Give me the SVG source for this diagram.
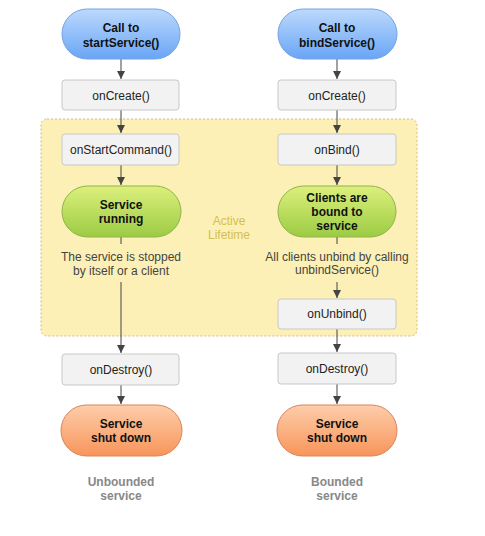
<svg xmlns="http://www.w3.org/2000/svg" width="485" height="536" viewBox="0 0 485 536">
<defs>
<linearGradient id="gBlue" x1="0" y1="0" x2="0" y2="1"><stop offset="0" stop-color="#bcd9fd"/><stop offset="1" stop-color="#69a5f6"/></linearGradient>
<linearGradient id="gGreen" x1="0" y1="0" x2="0" y2="1"><stop offset="0" stop-color="#dcf07c"/><stop offset="1" stop-color="#9ccb44"/></linearGradient>
<linearGradient id="gOrange" x1="0" y1="0" x2="0" y2="1"><stop offset="0" stop-color="#fecdab"/><stop offset="1" stop-color="#f7955a"/></linearGradient>
<marker id="arr" viewBox="0 0 10 10" refX="10" refY="5" markerWidth="8" markerHeight="8" markerUnits="userSpaceOnUse" orient="auto"><path d="M0,0 L10,5 L0,10 z" fill="#444"/></marker>
</defs>
<style>
.box{fill:#f2f2f2;stroke:#c8c8c8;stroke-width:1}
.blue{fill:url(#gBlue);stroke:#74a3e0;stroke-width:1}
.green{fill:url(#gGreen);stroke:#8fb34a;stroke-width:1}
.orange{fill:url(#gOrange);stroke:#d8845a;stroke-width:1}
text{font-family:"Liberation Sans",Arial,sans-serif;text-anchor:middle}
.t{font-size:12px;fill:#222}
.b{font-size:12px;font-weight:bold;fill:#111}
.note{font-size:12px;fill:#444}
.cap{font-size:12px;font-weight:bold;fill:#888}
.act{font-size:12px;fill:#d4bf4c}
.ln{stroke:#444;stroke-width:1;fill:none}
</style>
<rect x="41" y="119" width="376" height="217" rx="6" fill="#fdf0b6" stroke="#d2bd78" stroke-width="1" stroke-dasharray="2,2"/>
<text class="act" x="229" y="225">Active</text>
<text class="act" x="229" y="239">Lifetime</text>
<g id="connectors">
<line class="ln" x1="121" y1="59" x2="121" y2="79" marker-end="url(#arr)"/>
<line class="ln" x1="121" y1="110" x2="121" y2="133" marker-end="url(#arr)"/>
<line class="ln" x1="121" y1="165" x2="121" y2="185" marker-end="url(#arr)"/>
<line class="ln" x1="121" y1="237" x2="121" y2="244"/>
<line class="ln" x1="121" y1="282" x2="121" y2="353" marker-end="url(#arr)"/>
<line class="ln" x1="121" y1="385" x2="121" y2="404" marker-end="url(#arr)"/>
<line class="ln" x1="337" y1="59" x2="337" y2="79" marker-end="url(#arr)"/>
<line class="ln" x1="337" y1="110" x2="337" y2="133" marker-end="url(#arr)"/>
<line class="ln" x1="337" y1="165" x2="337" y2="185" marker-end="url(#arr)"/>
<line class="ln" x1="337" y1="237" x2="337" y2="244"/>
<line class="ln" x1="337" y1="282" x2="337" y2="298" marker-end="url(#arr)"/>
<line class="ln" x1="337" y1="329" x2="337" y2="352" marker-end="url(#arr)"/>
<line class="ln" x1="337" y1="384" x2="337" y2="404" marker-end="url(#arr)"/>
</g>
<g id="startService"><rect class="blue" x="62" y="9" width="118" height="50" rx="25"/><text class="b" x="121" y="32">Call to</text><text class="b" x="121" y="47">startService()</text></g>
<g id="onCreate1"><rect class="box" x="62" y="80" width="117" height="30" rx="3"/><text class="t" x="121" y="100">onCreate()</text></g>
<g id="onStartCommand"><rect class="box" x="62" y="134" width="117" height="31" rx="3"/><text class="t" x="121" y="154">onStartCommand()</text></g>
<g id="running"><rect class="green" x="62" y="186" width="119" height="51" rx="25.5"/><text class="b" x="121" y="209">Service</text><text class="b" x="121" y="223">running</text></g>
<g id="note1"><text class="note" x="121" y="261">The service is stopped</text><text class="note" x="121" y="275">by itself or a client</text></g>
<g id="onDestroy1"><rect class="box" x="62" y="354" width="117" height="31" rx="3"/><text class="t" x="121" y="374">onDestroy()</text></g>
<g id="shutdown1"><rect class="orange" x="61" y="405" width="121" height="51" rx="25.5"/><text class="b" x="121" y="428">Service</text><text class="b" x="121" y="442">shut down</text></g>
<g id="cap1"><text class="cap" x="121" y="486">Unbounded</text><text class="cap" x="121" y="500">service</text></g>
<g id="bindService"><rect class="blue" x="278" y="9" width="119" height="50" rx="25"/><text class="b" x="337" y="32">Call to</text><text class="b" x="337" y="47">bindService()</text></g>
<g id="onCreate2"><rect class="box" x="278" y="80" width="118" height="30" rx="3"/><text class="t" x="337" y="100">onCreate()</text></g>
<g id="onBind"><rect class="box" x="278" y="134" width="118" height="31" rx="3"/><text class="t" x="337" y="154">onBind()</text></g>
<g id="bound"><rect class="green" x="278" y="186" width="118" height="51" rx="25.5"/><text class="b" x="337" y="202">Clients are</text><text class="b" x="337" y="216">bound to</text><text class="b" x="337" y="230">service</text></g>
<g id="note2"><text class="note" x="337" y="261">All clients unbind by calling</text><text class="note" x="337" y="274">unbindService()</text></g>
<g id="onUnbind"><rect class="box" x="278" y="299" width="118" height="30" rx="3"/><text class="t" x="337" y="318">onUnbind()</text></g>
<g id="onDestroy2"><rect class="box" x="278" y="353" width="118" height="31" rx="3"/><text class="t" x="337" y="373">onDestroy()</text></g>
<g id="shutdown2"><rect class="orange" x="277" y="405" width="120" height="51" rx="25.5"/><text class="b" x="337" y="428">Service</text><text class="b" x="337" y="442">shut down</text></g>
<g id="cap2"><text class="cap" x="337" y="486">Bounded</text><text class="cap" x="337" y="500">service</text></g>
</svg>
